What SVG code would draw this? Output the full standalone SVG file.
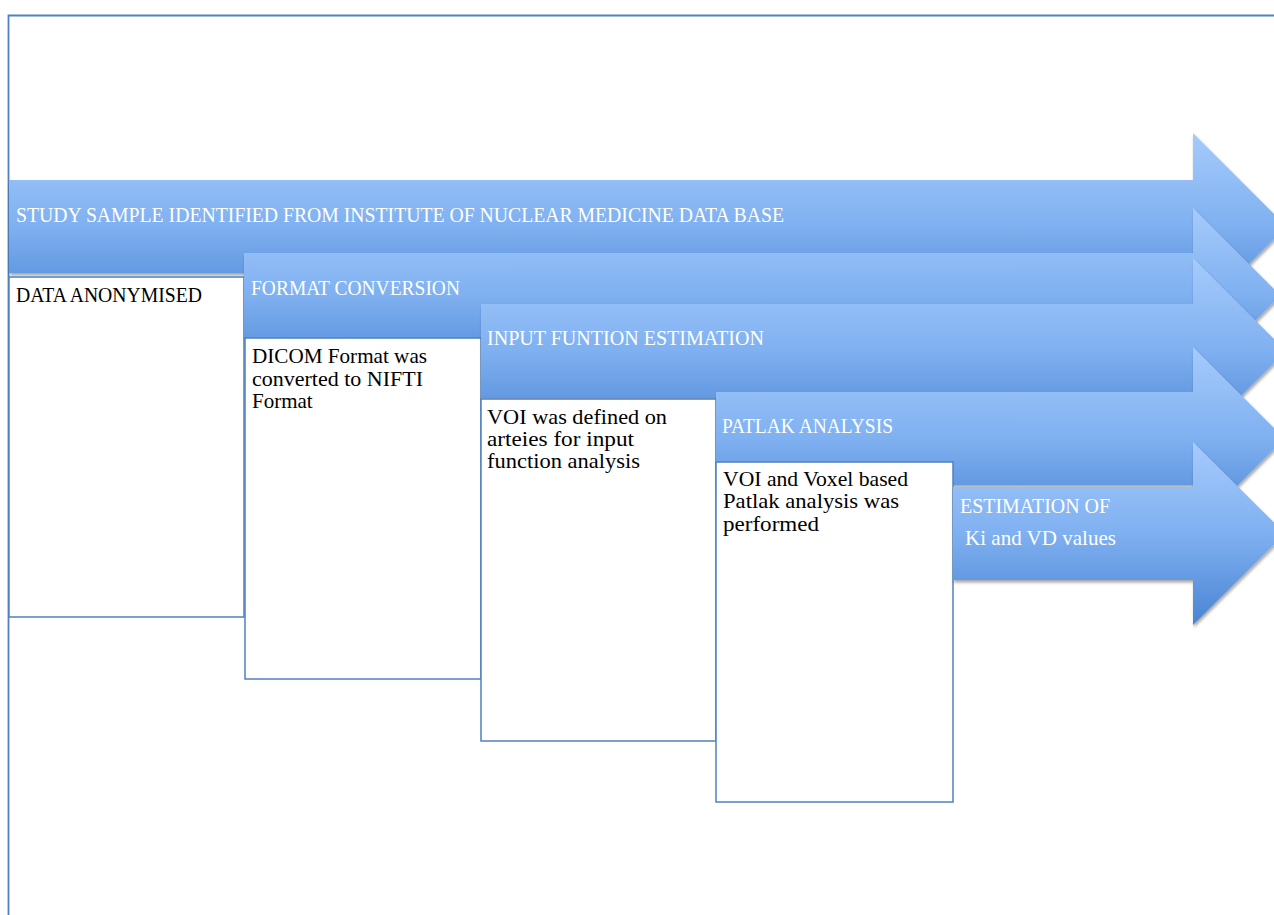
<svg xmlns="http://www.w3.org/2000/svg" width="1274" height="915" viewBox="0 0 1274 915">
<style>
.arrow{fill:url(#g);filter:url(#sh)}
.box{fill:#ffffff;stroke:#4f81bd;stroke-width:1.5}
.lbl{font-family:"Liberation Serif",serif;font-size:21px;fill:#ffffff}
.txt{font-family:"Liberation Serif",serif;font-size:21px;fill:#000000}
.frame{fill:none;stroke:#4f81bd;stroke-width:1.8}
</style>
<defs>
<linearGradient id="g" x1="0" y1="0" x2="0" y2="1">
<stop offset="0" stop-color="#a6cbfc"/>
<stop offset="0.5" stop-color="#7fb0f0"/>
<stop offset="1" stop-color="#4884d3"/>
</linearGradient>
<filter id="sh" x="-5%" y="-10%" width="115%" height="125%">
<feDropShadow dx="1" dy="2.5" stdDeviation="1.5" flood-color="#000000" flood-opacity="0.35"/>
</filter>
</defs>
<rect width="1274" height="915" fill="#ffffff"/>
<g id="frame"><path class="frame" d="M8.5,915 L8.5,15.5 L1274,15.5"/></g>
<g id="connectors"></g>
<g id="step1">
<path class="arrow" d="M9,180 L1193,180 L1193,133 L1286.5,226.5 L1193,320 L1193,273 L9,273 Z"/>
<text class="lbl" x="16" y="222" textLength="768" lengthAdjust="spacingAndGlyphs">STUDY SAMPLE IDENTIFIED FROM INSTITUTE OF NUCLEAR MEDICINE DATA BASE</text>
</g>
<g id="box1">
<rect class="box" x="9" y="277" width="235" height="340"/>
<text class="txt" x="16" y="302" textLength="186" lengthAdjust="spacingAndGlyphs">DATA ANONYMISED</text>
</g>
<g id="step2">
<path class="arrow" d="M244,253 L1193,253 L1193,208 L1280.5,295.5 L1193,383 L1193,338 L244,338 Z"/>
<text class="lbl" x="251" y="295" textLength="209" lengthAdjust="spacingAndGlyphs">FORMAT CONVERSION</text>
</g>
<g id="box2">
<rect class="box" x="245" y="338" width="236" height="341"/>
<text class="txt" x="252" y="363" textLength="175" lengthAdjust="spacingAndGlyphs">DICOM Format was</text>
<text class="txt" x="252" y="386" textLength="171" lengthAdjust="spacingAndGlyphs">converted to NIFTI</text>
<text class="txt" x="252" y="408">Format</text>
</g>
<g id="step3">
<path class="arrow" d="M481,304 L1193,304 L1193,258 L1286,351 L1193,444 L1193,398 L481,398 Z"/>
<text class="lbl" x="487" y="345" textLength="277" lengthAdjust="spacingAndGlyphs">INPUT FUNTION ESTIMATION</text>
</g>
<g id="box3">
<rect class="box" x="481" y="399" width="235" height="342"/>
<text class="txt" x="487" y="424" textLength="180" lengthAdjust="spacingAndGlyphs">VOI  was defined on</text>
<text class="txt" x="487" y="446" textLength="147" lengthAdjust="spacingAndGlyphs">arteies for input</text>
<text class="txt" x="487" y="468" textLength="153" lengthAdjust="spacingAndGlyphs">function analysis</text>
</g>
<g id="step4">
<path class="arrow" d="M716,392 L1193,392 L1193,347 L1284.5,438.5 L1193,530 L1193,485 L716,485 Z"/>
<text class="lbl" x="722" y="433" textLength="171" lengthAdjust="spacingAndGlyphs">PATLAK ANALYSIS</text>
</g>
<g id="box4">
<rect class="box" x="716" y="462" width="237" height="340"/>
<text class="txt" x="723" y="486" textLength="185" lengthAdjust="spacingAndGlyphs">VOI and Voxel based</text>
<text class="txt" x="723" y="508" textLength="176" lengthAdjust="spacingAndGlyphs">Patlak analysis was</text>
<text class="txt" x="723" y="531" textLength="96" lengthAdjust="spacingAndGlyphs">performed</text>
</g>
<g id="step5">
<path class="arrow" d="M953,487 L1193,487 L1193,442 L1285,533.5 L1193,625 L1193,580 L953,580 Z"/>
<text class="lbl" x="960" y="513" textLength="150" lengthAdjust="spacingAndGlyphs">ESTIMATION OF</text>
<text class="lbl" x="965" y="545" textLength="151" lengthAdjust="spacingAndGlyphs">Ki and VD values</text>
</g>
</svg>
